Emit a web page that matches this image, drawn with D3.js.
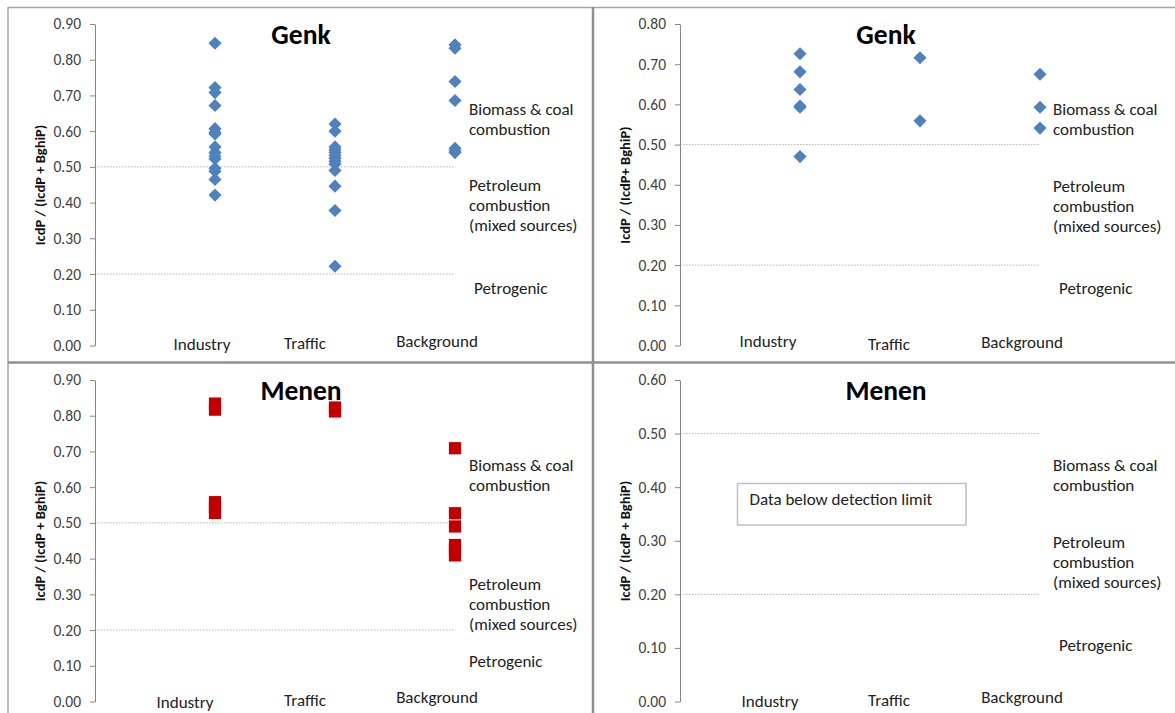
<!DOCTYPE html>
<html>
<head>
<meta charset="utf-8">
<script src="https://cdn.jsdelivr.net/npm/d3@7"></script>
<style>
  html, body { margin: 0; padding: 0; background: #fff; }
  svg { display: block; }
  text { font-family: Carlito, Calibri, Lato, "Open Sans", sans-serif; }
</style>
</head>
<body>
<svg id="chart" width="1175" height="713"></svg>
<script>
// Sampling categories along the x axis (positions 1, 2, 3)
const categories = ["Industry", "Traffic", "Background"];

// Genk, first campaign: IcdP / (IcdP + BghiP)
const genk1Industry   = [0.846, 0.722, 0.708, 0.672, 0.607, 0.597, 0.592, 0.556, 0.540, 0.530, 0.522, 0.496, 0.488, 0.465, 0.421];
const genk1Traffic    = [0.620, 0.600, 0.556, 0.548, 0.540, 0.532, 0.524, 0.516, 0.508, 0.490, 0.446, 0.378, 0.222];
const genk1Background = [0.842, 0.832, 0.739, 0.686, 0.552, 0.545, 0.540];

// Genk, second campaign
const genk2Industry   = [0.726, 0.681, 0.637, 0.596, 0.593, 0.470];
const genk2Traffic    = [0.716, 0.559];
const genk2Background = [0.675, 0.593, 0.541];

// Menen, first campaign
const menen1Industry   = [0.834, 0.817, 0.558, 0.543, 0.528];
const menen1Traffic    = [0.823, 0.812];
const menen1Background = [0.709, 0.527, 0.490, 0.438, 0.424, 0.409];

// Menen, second campaign: nothing above the detection limit
const menen2Industry   = [];
const menen2Traffic    = [];
const menen2Background = [];

// Source-diagnostic thresholds
const thresholds = [0.5, 0.2];

// Axis tick values per panel
const ticks09 = [0.0, 0.1, 0.2, 0.3, 0.4, 0.5, 0.6, 0.7, 0.8, 0.9];
const ticks08 = [0.0, 0.1, 0.2, 0.3, 0.4, 0.5, 0.6, 0.7, 0.8];
const ticks06 = [0.0, 0.1, 0.2, 0.3, 0.4, 0.5, 0.6];

const panels = [
  { ox: 0,   oy: 0,   title: "Genk",  yTitle: "IcdP / (IcdP + BghiP)", ymax: 0.9, ticks: ticks09,
    series: [genk1Industry, genk1Traffic, genk1Background], mark: "diamond",
    catLabels: [[202, 344], [305, 343], [437, 341]],
    zones: { bx: 469, by: 109, px: 469, py: 185, gx: 474, gy: 288 } },
  { ox: 585, oy: 0,   title: "Genk",  yTitle: "IcdP / (IcdP+ BghiP)", ymax: 0.8, ticks: ticks08,
    series: [genk2Industry, genk2Traffic, genk2Background], mark: "diamond",
    catLabels: [[183, 341], [304, 344], [437, 342]],
    zones: { bx: 468, by: 109, px: 468, py: 186, gx: 474, gy: 288 } },
  { ox: 0,   oy: 356, title: "Menen", yTitle: "IcdP / (IcdP + BghiP)", ymax: 0.9, ticks: ticks09,
    series: [menen1Industry, menen1Traffic, menen1Background], mark: "square",
    catLabels: [[185, 346], [305, 344], [437, 341]],
    zones: { bx: 469, by: 109, px: 469, py: 228, gx: 469, gy: 305 } },
  { ox: 585, oy: 356, title: "Menen", yTitle: "IcdP / (IcdP + BghiP)", ymax: 0.6, ticks: ticks06,
    series: [menen2Industry, menen2Traffic, menen2Background], mark: "square",
    catLabels: [[185, 345.5], [304, 344], [437, 341]],
    zones: { bx: 468, by: 109, px: 468, py: 186, gx: 474, gy: 289 },
    note: "Data below detection limit" }
];

const svg = d3.select("#chart");

// Frame lines between the four charts
const frame = svg.append("g").attr("fill", "none");
frame.append("line").attr("x1", 8).attr("x2", 1175).attr("y1", 7.5).attr("y2", 7.5)
  .attr("stroke", "#a6a6a6").attr("stroke-width", 1.5);
frame.append("line").attr("x1", 8).attr("x2", 8).attr("y1", 7).attr("y2", 713)
  .attr("stroke", "#a6a6a6").attr("stroke-width", 1.5);
frame.append("line").attr("x1", 593).attr("x2", 593).attr("y1", 7).attr("y2", 713)
  .attr("stroke", "#8f8f8f").attr("stroke-width", 2.5);
frame.append("line").attr("x1", 8).attr("x2", 1175).attr("y1", 362.5).attr("y2", 362.5)
  .attr("stroke", "#8f8f8f").attr("stroke-width", 2.5);

const markShape = {
  diamond: d3.symbol(d3.symbolSquare, 86)(),
  square: d3.symbol(d3.symbolSquare, 150)()
};
const markFill = { diamond: "#4f81bd", square: "#c00000" };

const labelSize = 17;

panels.forEach(p => {
  const g = svg.append("g").attr("transform", `translate(${p.ox},${p.oy})`);
  const x = d3.scaleLinear().domain([0, 3]).range([95, 455]);
  const y = d3.scaleLinear().domain([0, p.ymax]).range([345.5, 24]);

  // Threshold lines
  g.selectAll("line.threshold").data(thresholds).join("line")
    .attr("class", "threshold")
    .attr("x1", x(0)).attr("x2", x(3))
    .attr("y1", d => y(d)).attr("y2", d => y(d))
    .attr("stroke", "#b5b5b5").attr("stroke-width", 1)
    .attr("stroke-dasharray", "1.5,1.5");

  // Value axis
  const axis = g.append("g").attr("transform", `translate(${x(0)},0)`)
    .call(d3.axisLeft(y).tickValues(p.ticks).tickFormat(d3.format(".2f"))
      .tickSizeInner(5).tickSizeOuter(0).tickPadding(9));
  axis.select(".domain").attr("stroke", "#868686");
  axis.selectAll(".tick line").attr("stroke", "#868686");
  axis.selectAll(".tick text").attr("fill", "#404040")
    .style("font-family", "Carlito, Calibri, Lato, sans-serif").style("font-size", "15.5px");

  // Axis title
  g.append("text")
    .attr("transform", "translate(40,185) rotate(-90)")
    .attr("text-anchor", "middle").attr("dominant-baseline", "central")
    .attr("font-weight", "bold").attr("font-size", 14.5).attr("fill", "#111")
    .text(p.yTitle);

  // Chart title
  g.append("text").attr("x", 301).attr("y", 44).attr("text-anchor", "middle")
    .attr("font-weight", "bold").attr("font-size", 27.5).attr("fill", "#000")
    .text(p.title);

  // Points
  p.series.forEach((vals, i) => {
    g.selectAll(null).data(vals).join("path")
      .attr("d", markShape[p.mark])
      .attr("transform", d => `translate(${x(i + 1)},${y(d)})` + (p.mark === "diamond" ? " rotate(45)" : ""))
      .attr("fill", markFill[p.mark]);
  });

  // Category labels
  g.selectAll("text.cat").data(categories).join("text")
    .attr("class", "cat")
    .attr("x", (d, i) => p.catLabels[i][0]).attr("y", (d, i) => p.catLabels[i][1])
    .attr("text-anchor", "middle").attr("dominant-baseline", "central")
    .attr("font-size", labelSize).attr("fill", "#222")
    .text(d => d);

  // Source zone labels
  const z = p.zones;
  const zone = g.append("g").attr("font-size", labelSize).attr("fill", "#222")
    .attr("dominant-baseline", "central");
  zone.append("text").attr("x", z.bx).attr("y", z.by).text("Biomass & coal");
  zone.append("text").attr("x", z.bx).attr("y", z.by + 20).text("combustion");
  zone.append("text").attr("x", z.px).attr("y", z.py).text("Petroleum");
  zone.append("text").attr("x", z.px).attr("y", z.py + 20).text("combustion");
  zone.append("text").attr("x", z.px).attr("y", z.py + 40).text("(mixed sources)");
  zone.append("text").attr("x", z.gx).attr("y", z.gy).text("Petrogenic");

  // Note box
  if (p.note) {
    g.append("rect").attr("x", 152.5).attr("y", 127.5).attr("width", 228.5).attr("height", 41.5)
      .attr("fill", "#fff").attr("stroke", "#bfbfbf").attr("stroke-width", 1.5);
    g.append("text").attr("x", 164.5).attr("y", 143.5).attr("dominant-baseline", "central")
      .attr("font-size", labelSize).attr("fill", "#222").text(p.note);
  }
});
</script>
</body>
</html>
